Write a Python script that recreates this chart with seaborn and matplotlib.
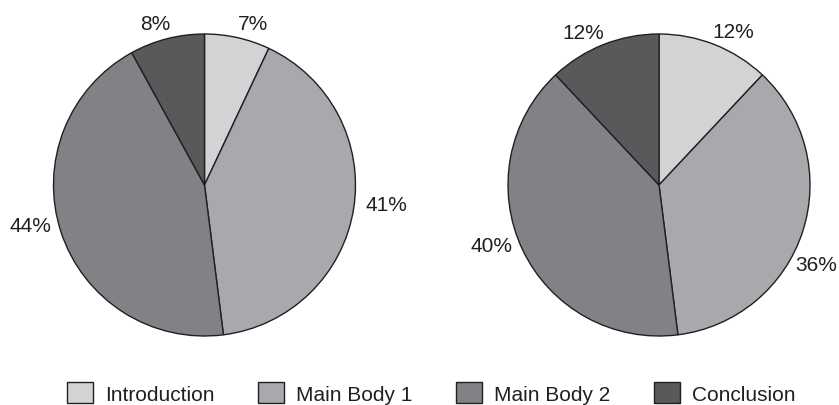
import matplotlib
matplotlib.use("Agg")
import numpy as np
import matplotlib.pyplot as plt
import seaborn as sns

# Share of each section, two essays
sections = ["Introduction", "Main Body 1", "Main Body 2", "Conclusion"]
essay_a = [7, 41, 44, 8]
essay_b = [12, 36, 40, 12]
section_colors = ["#d1d3d4", "#a7a9ac", "#808285", "#58595b"]

# Label placement: distance from centre (in radii) and a small
# clockwise nudge (degrees) away from each wedge's mid-angle
label_dist_a = [1.12, 1.21, 1.18, 1.12]
label_nudge_a = [4.2, -2.9, 5.0, -2.6]
label_dist_b = [1.13, 1.165, 1.18, 1.13]
label_nudge_b = [4.1, 8.7, 5.5, -4.7]

sns.set_theme(style="white")
plt.rcParams["font.family"] = ["Liberation Sans", "DejaVu Sans"]
palette = sns.color_palette(section_colors)
ink = "#231f20"

W, H = 839, 406
fig = plt.figure(figsize=(W / 100, H / 100), dpi=100)

# pie centres and radius in pixels
radius = 151
centers = [(204.5, 186), (659, 186)]


def draw_pie(values, cx, cy, dists, nudges):
    ax = fig.add_axes([(cx - radius) / W, (H - cy - radius) / H,
                       2 * radius / W, 2 * radius / H])
    wedges, _ = ax.pie(
        values,
        colors=palette,
        startangle=90,
        counterclock=False,
        wedgeprops=dict(edgecolor=ink, linewidth=1.0),
    )
    for w, v, d, n in zip(wedges, values, dists, nudges):
        theta = np.deg2rad((w.theta1 + w.theta2) / 2 - n)
        ax.text(d * np.cos(theta), d * np.sin(theta), f"{v}%",
                ha="center", va="center", fontsize=15, color=ink)
    ax.set_xlim(-1, 1)
    ax.set_ylim(-1, 1)
    ax.set_aspect("equal")
    ax.axis("off")
    return wedges


wedges = draw_pie(essay_a, *centers[0], label_dist_a, label_nudge_a)
draw_pie(essay_b, *centers[1], label_dist_b, label_nudge_b)

fig.legend(
    wedges, sections,
    loc="center",
    bbox_to_anchor=(431.5 / W, 1 - 394 / H),
    ncol=4,
    frameon=False,
    fontsize=15,
    handlelength=1.25,
    handleheight=1.15,
    handletextpad=0.57,
    columnspacing=2.1,
    borderpad=0,
    labelcolor=ink,
)

fig.savefig("out.png", dpi=100, facecolor="white")
